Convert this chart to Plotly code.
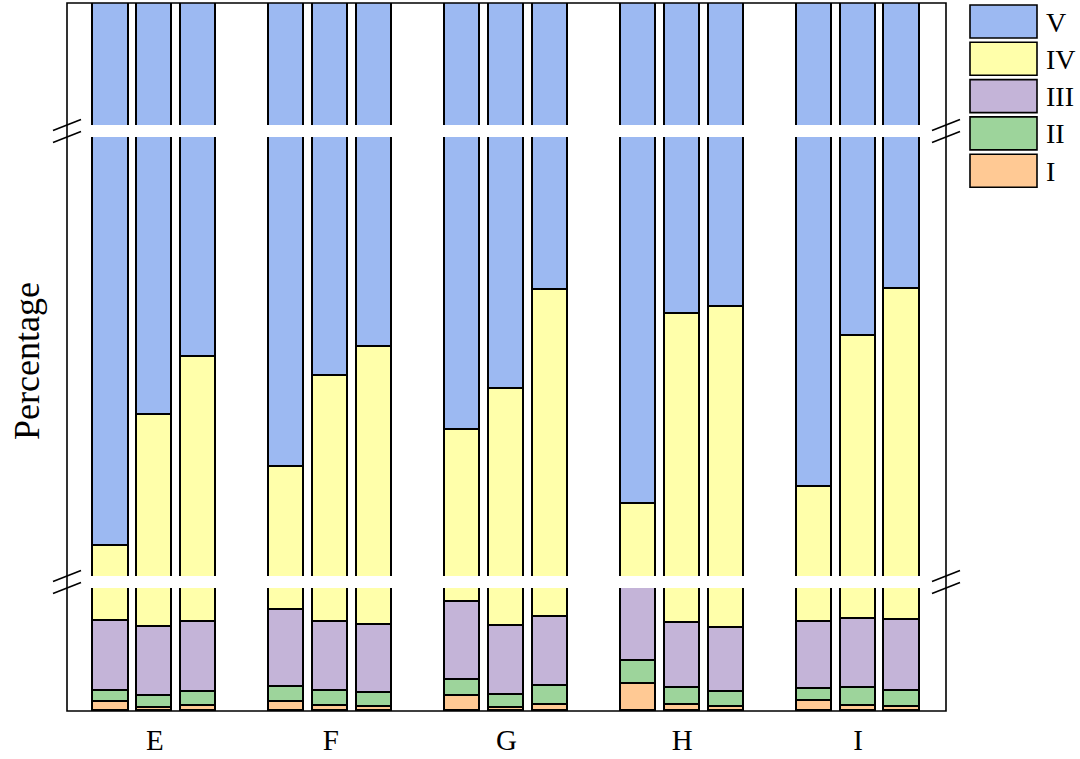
"""Stacked percentage bars (classes I-V) for sites E-I, drawn on a broken y axis."""
import plotly.graph_objects as go

# ---- data -----------------------------------------------------------------
groups = ["E", "F", "G", "H", "I"]
classes = ["I", "II", "III", "IV", "V"]

# percentage of each class, three samples per group (E1, E2, E3, F1, ...)
pct_I = [1.4, 0.5, 0.8, 1.4, 0.8, 0.7, 2.4, 0.5, 1.0, 4.4, 0.9, 0.7, 1.6, 0.8, 0.7]
pct_II = [1.9, 2.0, 2.3, 2.5, 2.4, 2.2, 2.7, 2.1, 3.1, 3.7, 2.8, 2.4, 2.0, 3.0, 2.6]
pct_III = [11.3, 11.2, 11.3, 12.6, 11.3, 11.1, 12.6, 11.2, 11.2, 12.9, 10.6, 10.4, 10.8, 11.2, 11.5]
pct_IV = [11.6, 31.0, 38.5, 20.9, 35.7, 40.3, 24.9, 34.6, 47.1, 11.2, 44.7, 46.5, 20.2, 40.9, 47.7]
pct_V = [73.8, 55.3, 47.1, 62.6, 49.8, 45.7, 57.4, 51.6, 37.6, 67.8, 41.0, 40.0, 65.4, 44.1, 37.5]

colors = ["#FFC994", "#9DD49B", "#C4B4D8", "#FFFFAA", "#9CB9F2"]

# ---- layout constants -------------------------------------------------------
W, H = 1080, 759
L, R, T, B = 67, 134, 3, 48
PW, PH = W - L - R, H - T - B
FONT = "Liberation Serif, Times New Roman, serif"


def px(x):
    return (x - L) / PW


def py(y):
    return (H - B - y) / PH


# three panels of the broken axis: (pixel top, pixel bottom, value range)
panels = [
    ("y", 588, 711, [0, 20]),
    ("y2", 137, 576, [22, 84]),
    ("y3", 3, 125, [86, 100]),
]

offsets = [-0.25, 0.0, 0.25]
xpos = [g + o for g in range(len(groups)) for o in offsets]
series = [pct_I, pct_II, pct_III, pct_IV, pct_V]

fig = go.Figure()
for yref, _, _, _ in panels:
    for name, vals, col in zip(classes, series, colors):
        fig.add_trace(go.Bar(
            x=xpos, y=vals, name=name, yaxis=yref, width=0.2,
            marker=dict(color=col, line=dict(color="black", width=1.7)),
            showlegend=False,
        ))

axis_common = dict(showticklabels=False, showgrid=False, zeroline=False,
                   showline=False, ticks="")
layout_axes = {}
for i, (yref, top, bot, rng) in enumerate(panels):
    key = "yaxis" if i == 0 else f"yaxis{i + 1}"
    layout_axes[key] = dict(axis_common, domain=[py(bot), py(top)], range=rng,
                            anchor="x")

fig.update_layout(
    width=W, height=H,
    margin=dict(l=L, r=R, t=T, b=B),
    paper_bgcolor="white", plot_bgcolor="white",
    barmode="stack", bargap=0,
    font=dict(family=FONT, color="black"),
    xaxis=dict(range=[-0.5, len(groups) - 0.5], tickvals=list(range(len(groups))),
               ticktext=groups, ticks="", showgrid=False, zeroline=False,
               showline=False, ticklabelstandoff=9,
               tickfont=dict(size=29, family=FONT)),
    **layout_axes,
)

# outer frame
fig.add_shape(type="rect", xref="paper", yref="paper", x0=0, x1=1, y0=0, y1=1,
              line=dict(color="black", width=1.6), layer="above")

# break marks on both sides of each gap
for gap_top, gap_bot in [(125, 137), (576, 588)]:
    for xc in (L, L + PW):
        for yc in (gap_top, gap_bot):
            fig.add_shape(type="line", xref="paper", yref="paper",
                          x0=px(xc - 14), y0=py(yc + 5.5),
                          x1=px(xc + 14), y1=py(yc - 5.5),
                          line=dict(color="black", width=1.6), layer="above")

# y title
fig.add_annotation(text="Percentage", xref="paper", yref="paper",
                   x=px(27), y=py(361), xanchor="center", yanchor="middle",
                   textangle=-90, showarrow=False,
                   font=dict(size=36, family=FONT))

# custom legend, top to bottom V .. I
for k, (name, col) in enumerate(zip(classes[::-1], colors[::-1])):
    y0 = 5 + k * 37.3
    fig.add_shape(type="rect", xref="paper", yref="paper",
                  x0=px(970), x1=px(1037), y0=py(y0 + 33), y1=py(y0),
                  fillcolor=col, line=dict(color="black", width=1.6))
    fig.add_annotation(text=name, xref="paper", yref="paper",
                       x=px(1044), y=py(y0 + 17), xanchor="left", yanchor="middle",
                       showarrow=False, font=dict(size=28, family=FONT))

fig.write_html("out.html", config={"displayModeBar": False},
               post_script="document.body.style.margin='0';"
                           "document.body.style.overflow='hidden';")
